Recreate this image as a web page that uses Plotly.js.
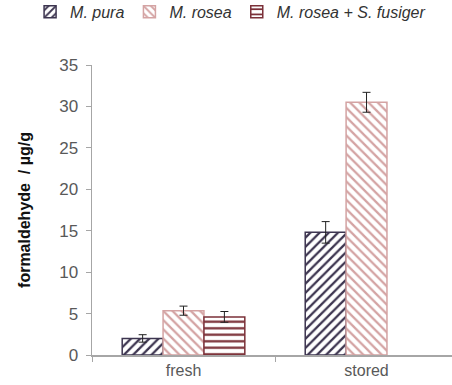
<!DOCTYPE html>
<html>
<head>
<meta charset="utf-8">
<script src="https://cdn.plot.ly/plotly-3.0.1.min.js"></script>
<style>html,body{margin:0;padding:0;overflow:hidden;background:#fff}</style>
</head>
<body>
<div id="chart" style="width:452px;height:385px"></div>
<script>
const categories = ["fresh", "stored"];
const seriesNames = ["M. pura", "M. rosea", "M. rosea + S. fusiger"];
const puraValues = [2.0, 14.8];
const puraErrors = [0.45, 1.3];
const roseaValues = [5.35, 30.5];
const roseaErrors = [0.55, 1.2];
const fusigerValues = [4.6, null];
const fusigerErrors = [0.65, null];
const colors = ["#3d3550", "#d4a3a3", "#7b3038"];
const patterns = ["/", "\\", "-"];

const vals = [puraValues, roseaValues, fusigerValues];
const errs = [puraErrors, roseaErrors, fusigerErrors];

const traces = seriesNames.map((name, i) => ({
  type: "bar",
  name: "<i>" + name + "</i>",
  x: categories,
  y: vals[i],
  error_y: {type: "data", array: errs[i], visible: true, color: "#222", thickness: 1, width: 4},
  marker: {
    color: colors[i],
    line: {color: colors[i], width: 1.5},
    pattern: {shape: patterns[i], fgcolor: colors[i], bgcolor: "#fff", size: 6.5, solidity: 0.35, fillmode: "replace"}
  }
}));

const layout = {
  width: 452, height: 385,
  margin: {l: 92, r: 0, t: 65, b: 30, autoexpand: false},
  paper_bgcolor: "#fff", plot_bgcolor: "#fff",
  font: {family: "Liberation Sans, Arial, sans-serif", color: "#595959", size: 16},
  barmode: "group",
  bargap: 0.33, bargroupgap: 0,
  showlegend: true,
  legend: {orientation: "h", x: -0.172, xanchor: "left", y: 1.183, yanchor: "middle",
           font: {size: 16, color: "#333"}, itemwidth: 30, traceorder: "normal", tracegroupgap: 0},
  xaxis: {
    range: [-0.5, 1.467], showline: true, linecolor: "#a6a6a6", linewidth: 1.5,
    ticks: "outside", tickson: "boundaries", ticklen: 5, tickcolor: "#a6a6a6",
    showgrid: false, zeroline: false, tickfont: {size: 16, color: "#595959"}
  },
  yaxis: {
    range: [0, 35], dtick: 5, showline: true, linecolor: "#a6a6a6", linewidth: 1.5,
    ticks: "outside", ticklen: 5, tickcolor: "#a6a6a6", showgrid: false, zeroline: false,
    ticklabelstandoff: 4,
    tickfont: {size: 17, color: "#595959"},
    title: {text: "<b>formaldehyde  / µg/g</b>", font: {size: 16, color: "#111"}, standoff: 24}
  }
};

Plotly.newPlot("chart", traces, layout, {displayModeBar: false, staticPlot: true});
</script>
</body>
</html>
